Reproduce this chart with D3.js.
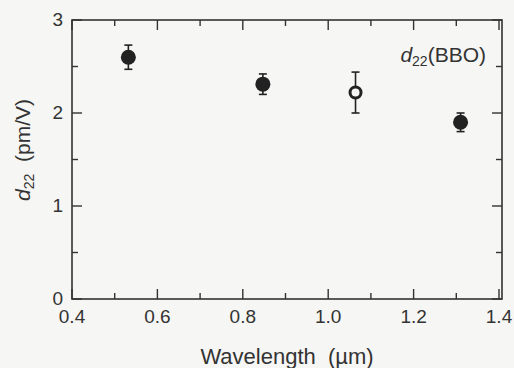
<!DOCTYPE html>
<html>
<head>
<meta charset="utf-8">
<script src="https://cdn.jsdelivr.net/npm/d3@7/dist/d3.min.js"></script>
<style>
  html, body { margin: 0; padding: 0; background: #f6f6f4; }
  svg { display: block; }
  text { font-family: "Liberation Sans", Arial, Helvetica, sans-serif; fill: #333; }
</style>
</head>
<body>
<svg id="chart" width="514" height="368"></svg>
<script>
// Measured d22 of BBO versus wavelength
const wavelengths = [0.532, 0.847, 1.064, 1.31];
const d22Values   = [2.60, 2.31, 2.22, 1.90];
const d22Errors   = [0.13, 0.11, 0.22, 0.10];
const filledMarks = [true, true, false, true];

const xMajorTicks = [0.4, 0.6, 0.8, 1.0, 1.2, 1.4];
const xMinorTicks = [0.5, 0.7, 0.9, 1.1, 1.3];
const yMajorTicks = [0, 1, 2, 3];
const yMinorTicks = [0.5, 1.5, 2.5];

const ink = "#333";
const svg = d3.select("#chart");

const frame = { left: 72, right: 502, top: 20, bottom: 299 };
const x = d3.scaleLinear().domain([0.4, 1.4]).range([72, 499]);
const y = d3.scaleLinear().domain([0, 3]).range([frame.bottom, frame.top]);

// Inward-pointing ticks on all four sides
const g = svg.append("g").attr("stroke", ink).attr("stroke-width", 1.4);
const majorLen = 10, minorLen = 6;
function xTicks(vals, len) {
  vals.forEach(v => {
    g.append("line").attr("x1", x(v)).attr("x2", x(v))
      .attr("y1", frame.bottom).attr("y2", frame.bottom - len);
    g.append("line").attr("x1", x(v)).attr("x2", x(v))
      .attr("y1", frame.top).attr("y2", frame.top + len);
  });
}
function yTicks(vals, len) {
  vals.forEach(v => {
    g.append("line").attr("y1", y(v)).attr("y2", y(v))
      .attr("x1", frame.left).attr("x2", frame.left + len);
    g.append("line").attr("y1", y(v)).attr("y2", y(v))
      .attr("x1", frame.right).attr("x2", frame.right - len);
  });
}
xTicks(xMajorTicks, majorLen);
xTicks(xMinorTicks, minorLen);
yTicks(yMajorTicks, majorLen);
yTicks(yMinorTicks, minorLen);

// Plot frame
svg.append("rect")
  .attr("x", frame.left).attr("y", frame.top)
  .attr("width", frame.right - frame.left).attr("height", frame.bottom - frame.top)
  .attr("fill", "none").attr("stroke", ink).attr("stroke-width", 1.6);

// Tick labels
const fmtX = d3.format(".1f");
svg.append("g").selectAll("text").data(xMajorTicks).join("text")
  .attr("x", d => x(d)).attr("y", 323)
  .attr("text-anchor", "middle").attr("font-size", 19)
  .text(d => fmtX(d));
svg.append("g").selectAll("text").data(yMajorTicks).join("text")
  .attr("x", 63).attr("y", d => y(d) + 6)
  .attr("text-anchor", "end").attr("font-size", 19)
  .text(d => d);

// Axis titles
svg.append("text")
  .attr("x", 287).attr("y", 364)
  .attr("text-anchor", "middle").attr("font-size", 22)
  .text("Wavelength\u00a0\u00a0(\u00b5m)");

const yt = svg.append("text")
  .attr("transform", "translate(30,150) rotate(-90)")
  .attr("text-anchor", "middle").attr("font-size", 21);
yt.append("tspan").attr("font-style", "italic").text("d");
yt.append("tspan").attr("font-size", 14).attr("dy", 4).text("22");
yt.append("tspan").attr("dy", -4).text("\u00a0\u00a0(pm/V)");

// Series label
const lbl = svg.append("text")
  .attr("x", 486).attr("y", 62)
  .attr("text-anchor", "end").attr("font-size", 21);
lbl.append("tspan").attr("font-style", "italic").text("d");
lbl.append("tspan").attr("font-size", 14).attr("dy", 4).text("22");
lbl.append("tspan").attr("dy", -4).text("(BBO)");

// Error bars and markers
const pts = wavelengths.map((w, i) => ({ w, v: d22Values[i], e: d22Errors[i], filled: filledMarks[i] }));
const eb = svg.append("g").attr("stroke", "#222").attr("stroke-width", 1.6);
pts.forEach(p => {
  const cx = x(p.w);
  eb.append("line").attr("x1", cx).attr("x2", cx).attr("y1", y(p.v - p.e)).attr("y2", y(p.v + p.e));
  [p.v - p.e, p.v + p.e].forEach(v => {
    eb.append("line").attr("x1", cx - 4).attr("x2", cx + 4).attr("y1", y(v)).attr("y2", y(v));
  });
});
svg.append("g").selectAll("circle").data(pts).join("circle")
  .attr("cx", d => x(d.w)).attr("cy", d => y(d.v))
  .attr("r", d => d.filled ? 7.5 : 5.5)
  .attr("fill", d => d.filled ? "#222" : "#f6f6f4")
  .attr("stroke", "#222")
  .attr("stroke-width", d => d.filled ? 0 : 3);
</script>
</body>
</html>
